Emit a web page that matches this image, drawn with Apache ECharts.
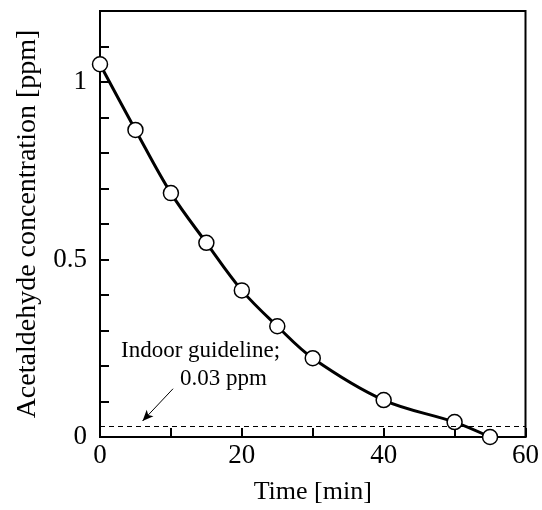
<!DOCTYPE html>
<html>
<head>
<meta charset="utf-8">
<script src="https://cdn.jsdelivr.net/npm/echarts@6/dist/echarts.min.js"></script>
<style>
  html, body { margin: 0; padding: 0; background: #fff; }
  #chart { width: 542px; height: 510px; }
</style>
</head>
<body>
<div id="chart"></div>
<script>
var times = [0, 5, 10, 15, 20, 25, 30, 40, 50, 55];
var concentration = [1.05, 0.865, 0.687, 0.547, 0.413, 0.312, 0.222, 0.104, 0.042, 0.0];
var guideline = 0.03;
// arrow from note to guideline, in data units
var arrowFrom = [10.3, 0.136];
var arrowTo = [6.0, 0.045];

var font = "Liberation Serif";

var chart = echarts.init(document.getElementById("chart"));

chart.setOption({
  animation: false,
  grid: {
    left: 100,
    right: 14,
    top: 11,
    bottom: 71,
    show: true,
    borderColor: "#000",
    borderWidth: 2
  },
  xAxis: {
    type: "value",
    min: 0,
    max: 60,
    interval: 10,
    name: "Time [min]",
    nameLocation: "middle",
    nameGap: 42,
    nameTextStyle: { fontFamily: font, fontSize: 26, color: "#000" },
    axisLine: { lineStyle: { color: "#000", width: 2 } },
    axisTick: { inside: true, length: 9, lineStyle: { color: "#000", width: 2 } },
    axisLabel: {
      fontFamily: font,
      fontSize: 27,
      color: "#000",
      margin: 5,
      formatter: function (v) {
        return v % 20 === 0 ? String(v) : "";
      }
    },
    splitLine: { show: false }
  },
  yAxis: {
    type: "value",
    min: 0,
    max: 1.2,
    interval: 0.1,
    name: "Acetaldehyde concentration [ppm]",
    nameLocation: "middle",
    nameGap: 58,
    nameTextStyle: { fontFamily: font, fontSize: 28, color: "#000" },
    axisLine: { lineStyle: { color: "#000", width: 2 } },
    axisTick: { inside: true, length: 9, lineStyle: { color: "#000", width: 2 } },
    axisLabel: {
      fontFamily: font,
      fontSize: 27,
      color: "#000",
      margin: 13,
      formatter: function (v) {
        var h = v * 2;
        if (Math.abs(h - Math.round(h)) < 1e-6 && v < 1.1) {
          return String(Math.round(h) / 2);
        }
        return "";
      }
    },
    splitLine: { show: false }
  },
  series: [
    {
      type: "line",
      data: times.map(function (t, i) { return [t, concentration[i]]; }),
      smooth: 0.35,
      symbol: "circle",
      symbolSize: 15,
      lineStyle: { color: "#000", width: 3 },
      itemStyle: { color: "#fff", borderColor: "#000", borderWidth: 1.5 },
      z: 3,
      markLine: {
        silent: true,
        animation: false,
        label: { show: false },
        data: [
          [
            { coord: [0, guideline], symbol: "none", lineStyle: { color: "#000", width: 1, type: [5, 4] } },
            { coord: [60, guideline], symbol: "none" }
          ],
          [
            { coord: arrowFrom, symbol: "none", lineStyle: { color: "#000", width: 1, type: "solid" } },
            { coord: arrowTo, symbol: "arrow", symbolSize: [7, 11] }
          ]
        ]
      }
    }
  ],
  graphic: [
    {
      type: "text",
      left: 121,
      top: 339,
      style: { text: "Indoor guideline;", font: "23px " + font, fill: "#000" }
    },
    {
      type: "text",
      left: 180,
      top: 367,
      style: { text: "0.03 ppm", font: "23px " + font, fill: "#000" }
    }
  ]
});
</script>
</body>
</html>
